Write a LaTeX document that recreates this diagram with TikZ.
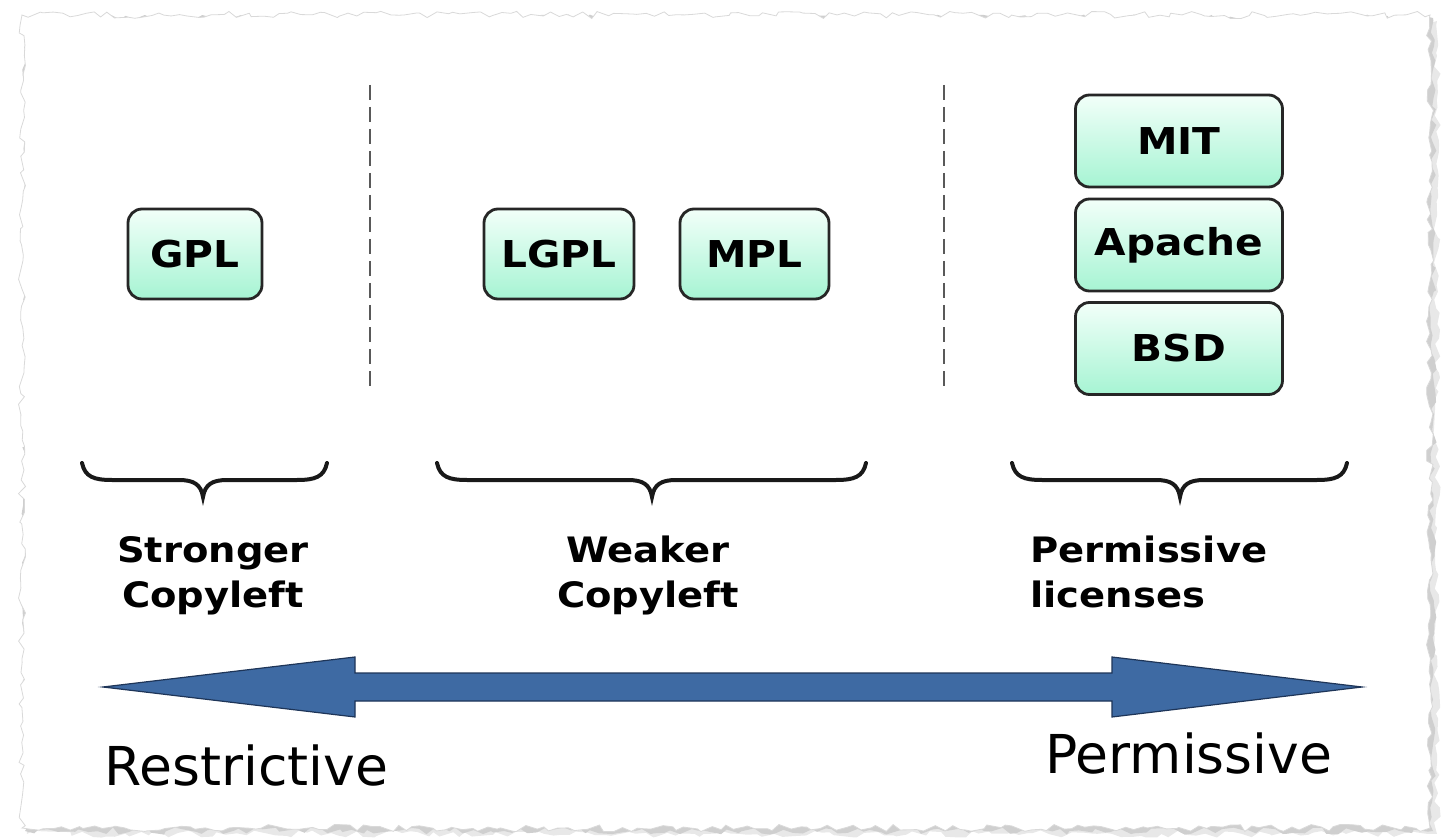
\documentclass[tikz,border=0pt]{standalone}
\usepackage{fontspec}
\setmainfont{DejaVu Sans}
\newfontfamily\vbold[FakeStretch=1.1]{DejaVu Sans}
\usetikzlibrary{decorations.pathmorphing}
\definecolor{mintt}{HTML}{F2FFF9}
\definecolor{mintb}{HTML}{A6F4D3}
\definecolor{arrowblue}{HTML}{3E6AA3}
\definecolor{arrowedge}{HTML}{1E3558}
\begin{document}
\begin{tikzpicture}[x=0.5pt,y=-0.5pt,
  lic/.style={draw=black!85, line width=1.4pt, rounded corners=7pt,
    top color=mintt, bottom color=mintb,
    font=\vbold\bfseries\fontsize{18.5}{22}\selectfont,
    inner sep=0pt, minimum height=45pt},
  sep/.style={draw=gray!70!black, line width=1pt, dash pattern=on 7.5pt off 3.5pt},
  bracestyle/.style={draw=black!90, line width=2pt, line cap=round},
  grp/.style={font=\vbold\bfseries\fontsize{17.5}{22.5}\selectfont, inner sep=0pt},
  axis/.style={font=\fontsize{26.8}{30}\selectfont, inner sep=0pt},
  torn/.style={decorate, decoration={random steps, segment length=4pt, amplitude=1.8pt}}]
\useasboundingbox (0,0) rectangle (1448,840);
\pgfmathsetseed{11}
% torn paper sheet with shadow
\fill[gray!18, torn] (27,21) rectangle (1437,834);
\fill[gray!38, torn] (25,18) rectangle (1433,831);
\fill[white, draw=gray!30, line width=0.4pt, torn] (22,15) rectangle (1430,828);

% separators
\coordinate (d1t) at (370,85); \coordinate (d1b) at (370,390);
\coordinate (d2t) at (944,85); \coordinate (d2b) at (944,390);
\draw[sep] (d1t) -- (d1b);
\draw[sep] (d2t) -- (d2b);

% license boxes
\node[lic, minimum width=67pt]   (gpl)    at (195,254)   {GPL};
\node[lic, minimum width=75pt]   (lgpl)   at (559,254)   {LGPL};
\node[lic, minimum width=74.5pt] (mpl)    at (754.5,254) {MPL};
\node[lic, minimum width=103.5pt, minimum height=46pt] (mit)    at (1179,141)   {MIT};
\node[lic, minimum width=103.5pt, minimum height=46pt] (apache) at (1179,245)   {Apache};
\node[lic, minimum width=103.5pt, minimum height=46pt] (bsd)    at (1179,348.5) {BSD};

% braces
\foreach \L/\C/\R in {82/203/327, 437/652/866, 1012/1180/1347}{
  \draw[bracestyle] (\L,463) .. controls ({\L+3},477) and ({\L+12},480) .. ({\L+30},480)
    -- ({\C-24},480) .. controls ({\C-10},480) and ({\C-2},484) .. (\C,497)
    .. controls ({\C+2},484) and ({\C+10},480) .. ({\C+24},480)
    -- ({\R-30},480) .. controls ({\R-12},480) and ({\R-3},477) .. (\R,463);
}

% group labels
\node[grp, align=center, anchor=north] (strong) at (213,536) {Stronger\\Copyleft};
\node[grp, align=center, anchor=north] (weak)   at (648,536) {Weaker\\Copyleft};
\node[grp, align=left, anchor=north west] (perm) at (1030,536) {Permissive\\licenses};

% double arrow
\fill[arrowblue, draw=arrowedge, line width=0.6pt, line join=miter]
  (103,687) -- (355,657) -- (355,673) -- (1112,673) -- (1112,657) -- (1362,687)
  -- (1112,717) -- (1112,701) -- (355,701) -- (355,717) -- cycle;

% axis labels
\node[axis, anchor=base west] (restr) at (104,785) {Restrictive};
\node[axis, anchor=base west] (permx) at (1045,773) {Permissive};
\end{tikzpicture}
\end{document}
